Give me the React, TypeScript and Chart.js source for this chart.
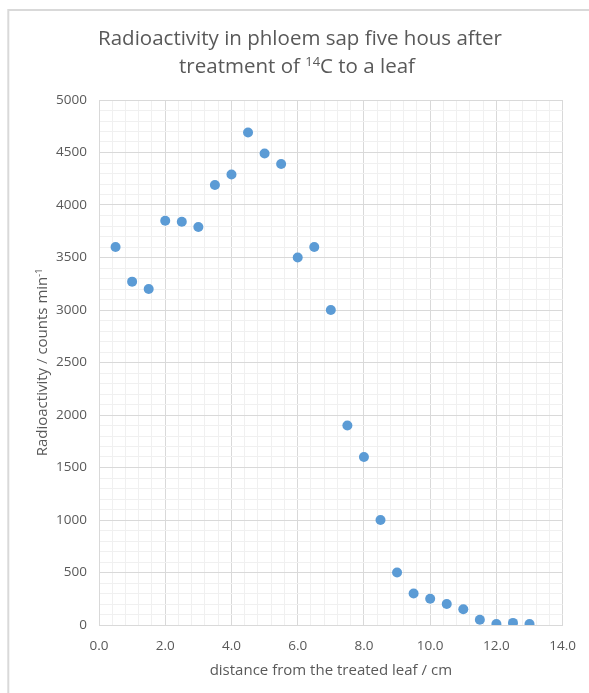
import React, { useEffect, useRef } from "react";
import { Chart, registerables } from "chart.js";

Chart.register(...registerables);

const distances = [0.5, 1.0, 1.5, 2.0, 2.5, 3.0, 3.5, 4.0, 4.5, 5.0, 5.5, 6.0, 6.5, 7.0, 7.5, 8.0, 8.5, 9.0, 9.5, 10.0, 10.5, 11.0, 11.5, 12.0, 12.5, 13.0];
const radioactivity = [3600, 3270, 3200, 3850, 3840, 3790, 4190, 4290, 4690, 4490, 4390, 3500, 3600, 3000, 1900, 1600, 1000, 500, 300, 250, 200, 150, 50, 10, 20, 10];

const xMin = 0;
const xMax = 14;
const xMajorStep = 2;
const xMinorStep = 0.4;
const yMin = 0;
const yMax = 5000;
const yMajorStep = 500;
const yMinorStep = 100;

const titleLine1 = "Radioactivity in phloem sap five hous after";
const titleLine2Parts = ["treatment of ", "14", "C to a leaf"];
const xAxisTitle = "distance from the treated leaf / cm";
const yAxisTitleParts = ["Radioactivity / counts min", "-1"];

const FONT = "'Open Sans', 'DejaVu Sans', sans-serif";
const TEXT = "#595959";
const MAJOR = "#d9d9d9";
const MINOR = "#f0f0f0";
const POINT = "#5B9BD5";

const isMajor = (v: number, step: number) => Math.abs(v / step - Math.round(v / step)) < 1e-6;

function drawRuns(ctx: CanvasRenderingContext2D, parts: string[], supIdx: number, size: number, cx: number, y: number) {
  const main = `${size}px ${FONT}`;
  const sup = `${Math.round(size * 0.62)}px ${FONT}`;
  const widths = parts.map((p, i) => {
    ctx.font = i === supIdx ? sup : main;
    return ctx.measureText(p).width;
  });
  const total = widths.reduce((a, b) => a + b, 0);
  let x = cx - total / 2;
  ctx.textAlign = "left";
  ctx.textBaseline = "alphabetic";
  parts.forEach((p, i) => {
    ctx.font = i === supIdx ? sup : main;
    ctx.fillText(p, x, i === supIdx ? y - size * 0.36 : y);
    x += widths[i];
  });
}

const textPlugin = {
  id: "textPlugin",
  afterDraw(chart: any) {
    const ctx: CanvasRenderingContext2D = chart.ctx;
    const area = chart.chartArea;
    ctx.save();
    // outer frame
    ctx.strokeStyle = MAJOR;
    ctx.lineWidth = 2;
    ctx.beginPath();
    ctx.moveTo(8.3, chart.height);
    ctx.lineTo(8.3, 10);
    ctx.lineTo(chart.width, 10);
    ctx.stroke();

    ctx.fillStyle = TEXT;
    // title
    drawRuns(ctx, [titleLine1], -1, 20.5, 300, 45);
    drawRuns(ctx, titleLine2Parts, 1, 20.5, 297, 73);
    // x axis title
    drawRuns(ctx, [xAxisTitle], -1, 15, (area.left + area.right) / 2, 675);
    // y axis title
    ctx.translate(47, (area.top + area.bottom) / 2);
    ctx.rotate(-Math.PI / 2);
    drawRuns(ctx, yAxisTitleParts, 1, 15, 0, 0);
    ctx.restore();
  },
};

export default function App() {
  const ref = useRef<HTMLCanvasElement | null>(null);

  useEffect(() => {
    if (!ref.current) return;
    const chart = new Chart(ref.current, {
      type: "scatter",
      data: {
        datasets: [
          {
            data: distances.map((d, i) => ({ x: d, y: radioactivity[i] })),
            backgroundColor: POINT,
            borderColor: POINT,
            borderWidth: 0,
            pointRadius: 5,
          },
        ],
      },
      options: {
        animation: false,
        responsive: false,
        layout: { padding: { top: 100, right: 25, bottom: 0, left: 0 } },
        plugins: { legend: { display: false }, tooltip: { enabled: false }, title: { display: false } },
        scales: {
          x: {
            type: "linear",
            min: xMin,
            max: xMax,
            afterFit: (s: any) => {
              s.height = 68;
            },
            ticks: {
              stepSize: xMinorStep,
              autoSkip: false,
              maxRotation: 0,
              padding: 13,
              color: TEXT,
              font: { family: FONT, size: 13.5 },
              callback: (v: any) => (isMajor(Number(v), xMajorStep) ? Number(v).toFixed(1) : ""),
            },
            grid: {
              drawTicks: false,
              color: (c: any) => (isMajor(c.tick.value, xMajorStep) ? MAJOR : MINOR),
            },
            border: { color: MAJOR },
          },
          y: {
            min: yMin,
            max: yMax,
            afterFit: (s: any) => {
              s.width = 99;
            },
            ticks: {
              stepSize: yMinorStep,
              autoSkip: false,
              padding: 12,
              color: TEXT,
              font: { family: FONT, size: 13.5 },
              callback: (v: any) => (isMajor(Number(v), yMajorStep) ? String(v) : ""),
            },
            grid: {
              drawTicks: false,
              color: (c: any) => (isMajor(c.tick.value, yMajorStep) ? MAJOR : MINOR),
            },
            border: { color: MAJOR },
          },
        },
      },
      plugins: [textPlugin],
    });
    return () => chart.destroy();
  }, []);

  return (
    <div style={{ position: "absolute", left: 0, top: 0, width: 589, height: 693, background: "#fff" }}>
      <canvas ref={ref} width={589} height={693} style={{ display: "block" }} />
    </div>
  );
}
